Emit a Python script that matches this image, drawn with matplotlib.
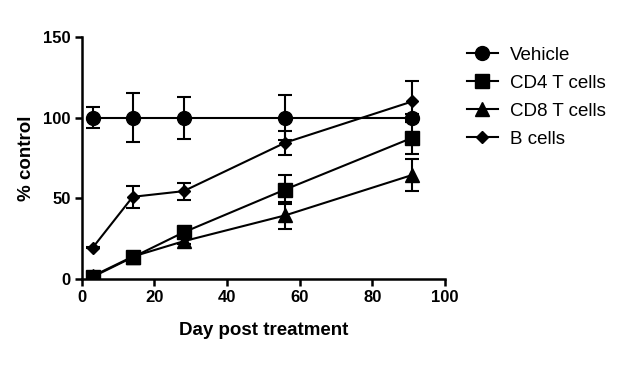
import matplotlib
matplotlib.use("Agg")
import matplotlib.pyplot as plt

days = [3, 14, 28, 56, 91]
vehicle = [100, 100, 100, 100, 100]
vehicle_err = [6.4, 15, 13, 14, 2]
cd4 = [1.5, 13.6, 29, 55.5, 87.5]
cd4_err = [0.5, 1, 1.5, 9, 10]
cd8 = [2, 14, 23.5, 39.5, 64.5]
cd8_err = [0.5, 1, 1.5, 8.5, 10]
bcells = [19.6, 51, 54.5, 84.5, 110]
bcells_err = [0.5, 7, 5.3, 7.5, 12.7]

labels = ["Vehicle", "CD4 T cells", "CD8 T cells", "B cells"]
series = [vehicle, cd4, cd8, bcells]
errs = [vehicle_err, cd4_err, cd8_err, bcells_err]
markers = ["o", "s", "^", "D"]
msizes = [10, 9.5, 10, 6.5]

plt.rcParams['font.family'] = ['Liberation Sans', 'DejaVu Sans']
fig = plt.figure(figsize=(6.4, 3.65), dpi=100)
ax = fig.add_axes([0.128, 0.235, 0.567, 0.664])

for y, e, m, ms, lab in zip(series, errs, markers, msizes, labels):
    ax.errorbar(days, y, yerr=e, color='black', marker=m, markersize=ms,
                linewidth=1.5, elinewidth=1.5, capsize=5, capthick=1.5,
                label=lab)

ax.set_xlim(0, 100)
ax.set_ylim(0, 150)
ax.set_xticks([0, 20, 40, 60, 80, 100])
ax.set_yticks([0, 50, 100, 150])
for s in ['top', 'right']:
    ax.spines[s].set_visible(False)
for s in ['left', 'bottom']:
    ax.spines[s].set_linewidth(1.8)
ax.tick_params(width=1.8, length=5, labelsize=12, pad=3)
for t in ax.get_xticklabels() + ax.get_yticklabels():
    t.set_fontweight('bold')
ax.set_xlabel("Day post treatment", fontsize=13.5, fontweight='bold', labelpad=12)
ax.set_ylabel("% control", fontsize=13.5, fontweight='bold', labelpad=6)

handles, labs = ax.get_legend_handles_labels()
handles = [h[0] for h in handles]
leg = fig.legend(handles, labs, loc='upper left', bbox_to_anchor=(0.718, 0.893),
                 frameon=False, fontsize=13.5, handlelength=1.65,
                 labelspacing=0.58, handletextpad=0.65, borderaxespad=0)

fig.savefig("out.png", dpi=100)
